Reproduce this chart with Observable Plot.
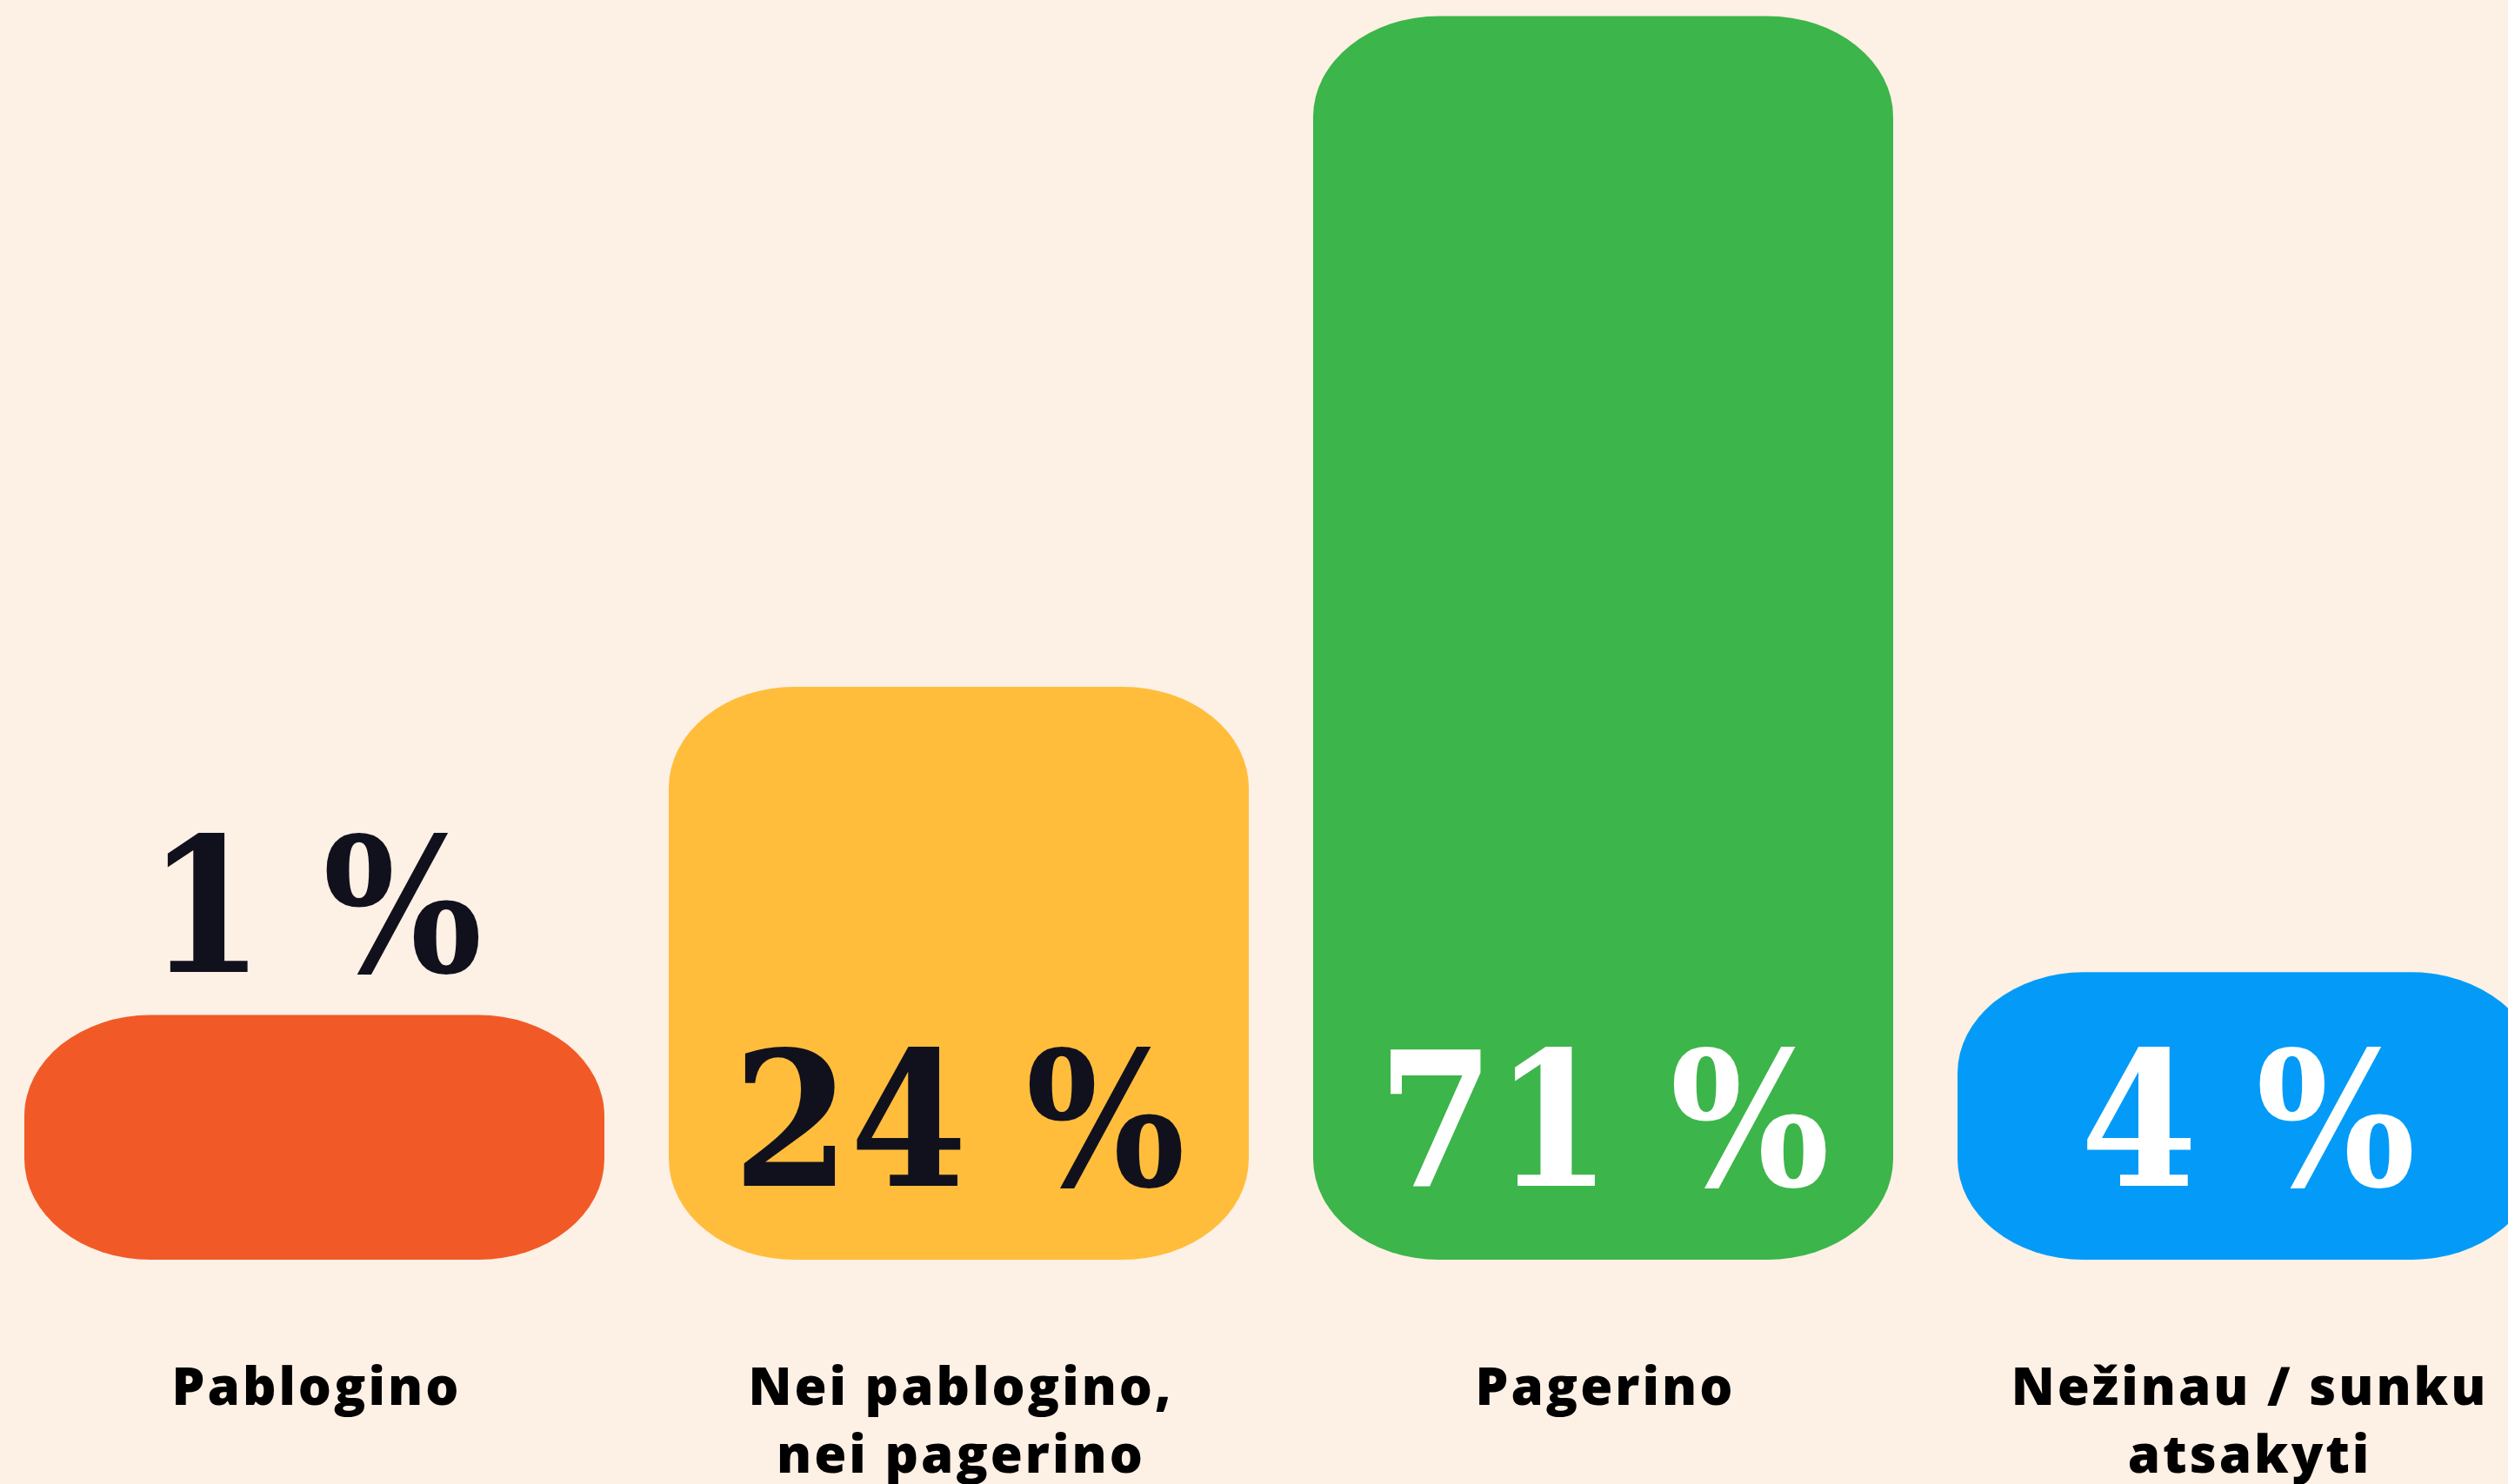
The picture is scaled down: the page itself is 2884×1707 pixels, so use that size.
<!DOCTYPE html>
<html>
<head>
<meta charset="utf-8">
<script src="https://cdn.jsdelivr.net/npm/d3@7"></script>
<script src="https://cdn.jsdelivr.net/npm/@observablehq/plot@0.6"></script>
<style>
  html, body { margin: 0; padding: 0; background: #FDF0E5; overflow: hidden; width: 2884px; height: 1707px; }
  #chart svg { display: block; background: #FDF0E5; max-width: none !important; height: 1720px !important; }
  [aria-label="category-label"], [aria-label="category-label"] text { letter-spacing: 3px; }
</style>
</head>
<body>
<div id="chart"></div>
<script>
// ---- data ----
const categories = ["Pablogino", "Nei pablogino,\nnei pagerino", "Pagerino", "Nežinau / sunku\natsakyti"];
const values = [1, 24, 71, 4];
const barColors = ["#F15A27", "#FFBD3B", "#3CB54A", "#039BF7"];
const valueColors = ["#11111D", "#11111D", "#FFFFFF", "#FFFFFF"];

const data = categories.map((c, i) => ({category: c, value: values[i], color: barColors[i], ink: valueColors[i]}));

// ---- layout constants ----
const W = 2930, H = 1720;
const frameBottom = 1449;       // bottom edge of bars
const baseExtension = 265;      // bars extend below zero (rounded base)
const pctFont = '"DejaVu Serif Condensed", "DejaVu Serif", serif';
const labelFont = '"Open Sans", Lato, sans-serif';

const chart = Plot.plot({
  width: W,
  height: H,
  marginTop: 0,
  marginLeft: 0,
  marginRight: 0,
  marginBottom: H - frameBottom,
  style: {background: "#FDF0E5", overflow: "visible"},
  x: {domain: categories, range: [28, 2918], paddingInner: 0.1, paddingOuter: 0, axis: null},
  y: {domain: [0, d3.max(values)], range: [frameBottom - baseExtension, 18.5], axis: null},
  color: {type: "identity"},
  marks: [
    Plot.barY(data, {
      x: "category", y: "value", fill: "color",
      rx: 145, ry: 116, insetBottom: -baseExtension
    }),
    // value labels inside bars
    Plot.text(data.filter(d => d.value >= 3), {
      x: "category", frameAnchor: "bottom", lineAnchor: "bottom", dy: -86,
      text: d => `${d.value} %`, fill: "ink",
      fontSize: 215, fontWeight: "bold", fontFamily: pctFont
    }),
    // value label above too-small bar
    Plot.text(data.filter(d => d.value < 3), {
      x: "category", y: "value", lineAnchor: "bottom", dy: -50,
      text: d => `${d.value} %`, fill: "ink",
      fontSize: 215, fontWeight: "bold", fontFamily: pctFont
    }),
    // category labels
    Plot.text(data, {
      x: "category", frameAnchor: "bottom", lineAnchor: "top", dy: 111, dx: 2,
      text: "category", fill: "#000000", lineHeight: 1.3,
      fontSize: 60, fontWeight: 800, fontFamily: labelFont,
      ariaLabel: () => "category-label"
    })
  ]
});

document.getElementById("chart").appendChild(chart);
</script>
</body>
</html>
